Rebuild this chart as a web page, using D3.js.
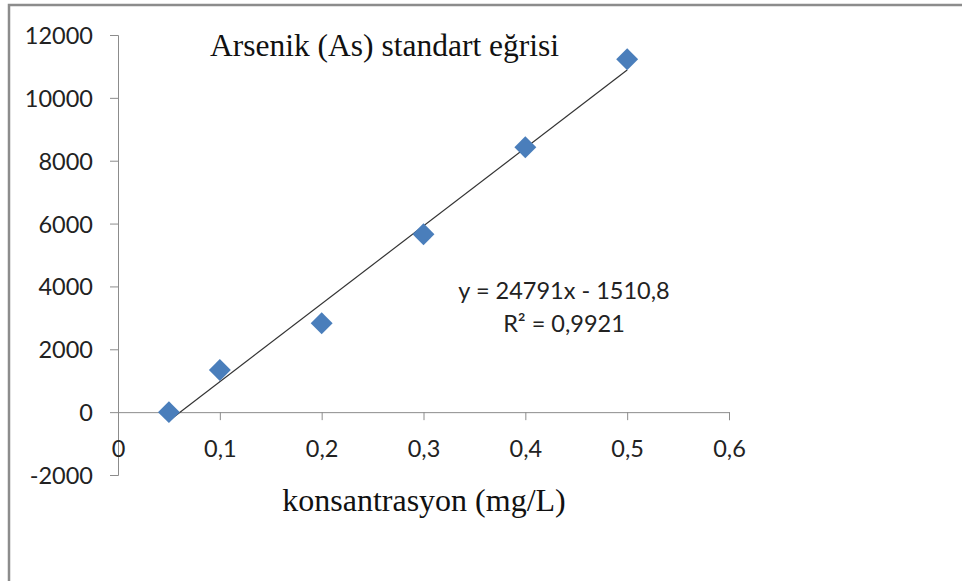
<!DOCTYPE html>
<html>
<head>
<meta charset="utf-8">
<script src="https://cdn.jsdelivr.net/npm/d3@7"></script>
<style>
	body { margin: 0; background: #fff; }
	svg { display: block; }
</style>
</head>
<body>
<div id="chart-area"></div>
<script>
/* Data */
const concentrations = [0.05, 0.1, 0.2, 0.3, 0.4, 0.5]
const intensities = [0, 1340, 2830, 5660, 8430, 11230]
const xTicks = [0, 0.1, 0.2, 0.3, 0.4, 0.5, 0.6]
const yTicks = [-2000, 0, 2000, 4000, 6000, 8000, 10000, 12000]
const trend = { slope: 24791, intercept: -1510.8, r2: '0,9921' }

const points = concentrations.map((c, i) => ({ x: c, y: intensities[i] }))

/* Canvas */
const CANVAS_WIDTH = 962
const CANVAS_HEIGHT = 581
const margin = { top: 35, left: 118, right: 233, bottom: 106 }
const width = CANVAS_WIDTH - margin.left - margin.right
const height = CANVAS_HEIGHT - margin.top - margin.bottom

const $svg = d3.select('#chart-area')
	.append('svg')
	.attr('width', CANVAS_WIDTH)
	.attr('height', CANVAS_HEIGHT)

// outer frame (only top and left edges are visible)
$svg.append('path')
	.attr('d', 'M9,581 V5 H962')
	.attr('fill', 'none')
	.attr('stroke', '#8c8c8c')
	.attr('stroke-width', 2.5)

const $scene = $svg.append('g')
	.attr('transform', `translate(${margin.left}, ${margin.top})`)

/* Scales */
const xScale = d3.scaleLinear()
	.domain([0, 0.6])
	.range([0, width])

const yScale = d3.scaleLinear()
	.domain([-2000, 12000])
	.range([height, 0])

const commaFormat = d => String(d).replace('.', ',')

/* Axes */
const tickFont = 'Lato, "Open Sans", sans-serif'

const $yAxisGroup = $scene.append('g')
	.call(d3.axisLeft(yScale).tickValues(yTicks).tickSize(8).tickPadding(17).tickFormat(d => d))

const $xAxisGroup = $scene.append('g')
	.attr('transform', `translate(0, ${yScale(0)})`)
	.call(d3.axisBottom(xScale).tickValues(xTicks).tickSize(8).tickSizeOuter(8).tickPadding(20).tickFormat(commaFormat))

;[$xAxisGroup, $yAxisGroup].forEach($g => {
	$g.select('.domain').attr('stroke', '#8c8c8c')
	$g.selectAll('.tick line').attr('stroke', '#8c8c8c')
	$g.selectAll('text')
		.attr('font-family', tickFont)
		.attr('font-size', 23.5)
		.attr('fill', '#222')
})
$yAxisGroup.selectAll('text').attr('dy', '0.36em')

/* Trendline */
const xExtent = d3.extent(concentrations)
const line = d3.line()
	.x(d => xScale(d))
	.y(d => yScale(trend.slope * d + trend.intercept))

$scene.append('path')
	.attr('d', line(xExtent))
	.attr('fill', 'none')
	.attr('stroke', '#333')
	.attr('stroke-width', 1.2)

/* Points */
const diamond = d3.symbol().type(d3.symbolSquare).size(240)

$scene.selectAll('.point')
	.data(points)
	.enter()
	.append('path')
	.attr('class', 'point')
	.attr('d', diamond)
	.attr('transform', d => `translate(${xScale(d.x)}, ${yScale(d.y)}) rotate(45)`)
	.attr('fill', '#4a7ebb')

/* Labels */
$svg.append('text')
	.attr('x', 210)
	.attr('y', 56)
	.attr('font-family', '"Liberation Serif", "Times New Roman", serif')
	.attr('font-size', 31.5)
	.attr('fill', '#111')
	.text('Arsenik (As) standart eğrisi')

$svg.append('text')
	.attr('x', 424)
	.attr('y', 511)
	.attr('text-anchor', 'middle')
	.attr('font-family', '"Liberation Serif", "Times New Roman", serif')
	.attr('font-size', 32)
	.attr('fill', '#111')
	.text('konsantrasyon (mg/L)')

const $eq = $svg.append('text')
	.attr('font-family', tickFont)
	.attr('font-size', 23.5)
	.attr('fill', '#222')
	.attr('text-anchor', 'middle')

$eq.append('tspan')
	.attr('x', 564)
	.attr('y', 299)
	.text(`y = ${trend.slope}x - ${commaFormat(Math.abs(trend.intercept))}`)

$eq.append('tspan')
	.attr('x', 564)
	.attr('y', 332)
	.text(`R² = ${trend.r2}`)
</script>
</body>
</html>
